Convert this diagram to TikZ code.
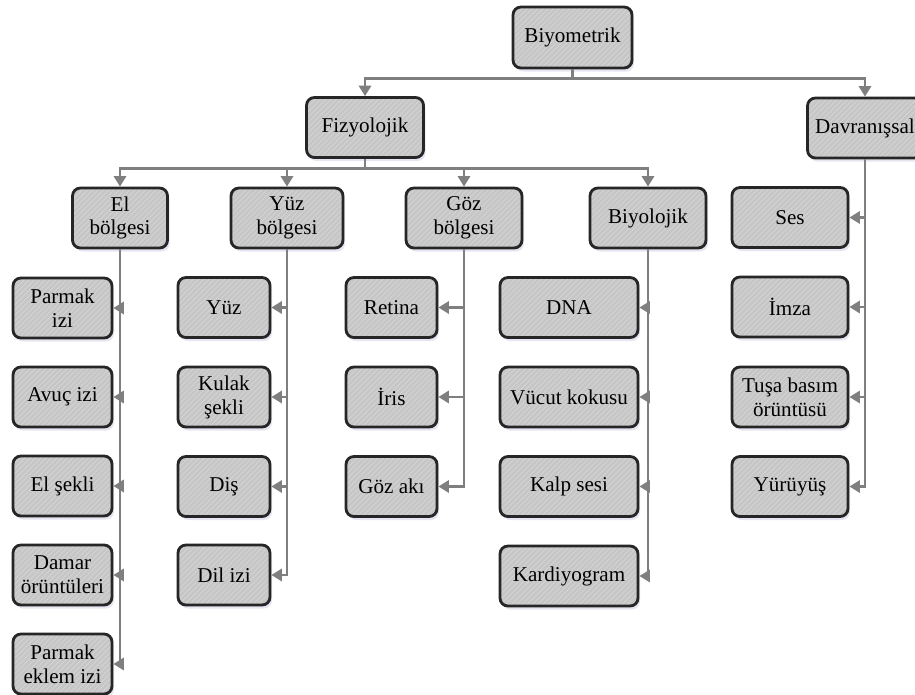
\documentclass[tikz,border=0pt]{standalone}
\usepackage{fontspec}
\setmainfont{Liberation Serif}
\usetikzlibrary{arrows.meta,patterns,shadows}
\definecolor{boxfill}{HTML}{C6C6C6}
\definecolor{hatch}{HTML}{D6D6D6}
\definecolor{boxline}{HTML}{262626}
\definecolor{conn}{HTML}{7F7F7F}
\begin{document}
\begin{tikzpicture}[
    box/.style={draw=boxline, line width=1.6pt, rounded corners=4.5pt,
        drop shadow={opacity=0.15, shadow xshift=0.4mm, shadow yshift=-0.7mm, fill=blue!30!gray},
        preaction={fill=boxfill}, pattern=north east lines, pattern color=hatch,
        minimum height=1.2cm, inner sep=2pt, align=center,
        font=\fontsize{12}{13.6}\selectfont},
    arrow/.style={-{Triangle[length=6pt,width=7pt]}, draw=conn, line width=1.4pt}
]
\useasboundingbox (0,0) rectangle (18.3,-13.88);

\node[box, minimum width=2.38cm, minimum height=1.22cm] (biyometrik) at (11.45,-0.75) {Biyometrik};
\node[box, minimum width=2.34cm] (fizyolojik) at (7.3,-2.55) {Fizyolojik};
\node[box, minimum width=2.3cm] (davranissal) at (17.3,-2.56) {Davranışsal};

\node[box, minimum width=1.9cm] (elb) at (2.4,-4.36) {El\\bölgesi};
\node[box, minimum width=2.24cm] (yuzb) at (5.74,-4.36) {Yüz\\bölgesi};
\node[box, minimum width=2.32cm] (gozb) at (9.28,-4.36) {Göz\\bölgesi};
\node[box, minimum width=2.32cm] (biyolojik) at (12.96,-4.36) {Biyolojik};

\node[box, minimum width=1.98cm] (parmak) at (1.25,-6.16) {Parmak\\izi};
\node[box, minimum width=1.98cm] (avuc) at (1.25,-7.94) {Avuç izi};
\node[box, minimum width=1.98cm] (elsekli) at (1.25,-9.72) {El şekli};
\node[box, minimum width=1.98cm] (damar) at (1.25,-11.5) {Damar\\örüntüleri};
\node[box, minimum width=1.98cm] (eklem) at (1.25,-13.28) {Parmak\\eklem izi};

\node[box, minimum width=1.84cm] (yuz) at (4.48,-6.15) {Yüz};
\node[box, minimum width=1.84cm] (kulak) at (4.48,-7.94) {Kulak\\şekli};
\node[box, minimum width=1.84cm] (dis) at (4.48,-9.73) {Diş};
\node[box, minimum width=1.84cm] (dil) at (4.48,-11.5) {Dil izi};

\node[box, minimum width=1.82cm] (retina) at (7.83,-6.15) {Retina};
\node[box, minimum width=1.82cm] (iris) at (7.83,-7.94) {İris};
\node[box, minimum width=1.82cm] (gozaki) at (7.83,-9.73) {Göz akı};

\node[box, minimum width=2.76cm] (dna) at (11.38,-6.15) {DNA};
\node[box, minimum width=2.76cm] (koku) at (11.38,-7.94) {Vücut kokusu};
\node[box, minimum width=2.76cm] (kalp) at (11.38,-9.73) {Kalp sesi};
\node[box, minimum width=2.76cm] (kardiyo) at (11.38,-11.52) {Kardiyogram};

\node[box, minimum width=2.32cm] (ses) at (15.8,-4.35) {Ses};
\node[box, minimum width=2.32cm] (imza) at (15.8,-6.14) {İmza};
\node[box, minimum width=2.32cm] (tusa) at (15.8,-7.94) {Tuşa basım\\örüntüsü};
\node[box, minimum width=2.32cm] (yuruyus) at (15.8,-9.73) {Yürüyüş};

\path (biyometrik.south) ++(0,-0.18) coordinate (bus1);
\path (fizyolojik.south) ++(0,-0.19) coordinate (bus2);

\draw[arrow] (biyometrik.south) -- (bus1) -| (fizyolojik.north);
\draw[arrow] (biyometrik.south) -- (bus1) -| (davranissal.north);

\foreach \n in {elb,yuzb,gozb,biyolojik}
    \draw[arrow] (fizyolojik.south) -- (bus2) -| (\n.north);

\foreach \n in {parmak,avuc,elsekli,damar,eklem}
    \draw[arrow] (elb.south) |- (\n.east);
\foreach \n in {yuz,kulak,dis,dil}
    \draw[arrow] (yuzb.south) |- (\n.east);
\foreach \n in {retina,iris,gozaki}
    \draw[arrow] (gozb.south) |- (\n.east);
\foreach \n in {dna,koku,kalp,kardiyo}
    \draw[arrow] (biyolojik.south) |- (\n.east);
\foreach \n in {ses,imza,tusa,yuruyus}
    \draw[arrow] (davranissal.south) |- (\n.east);

\end{tikzpicture}
\end{document}
